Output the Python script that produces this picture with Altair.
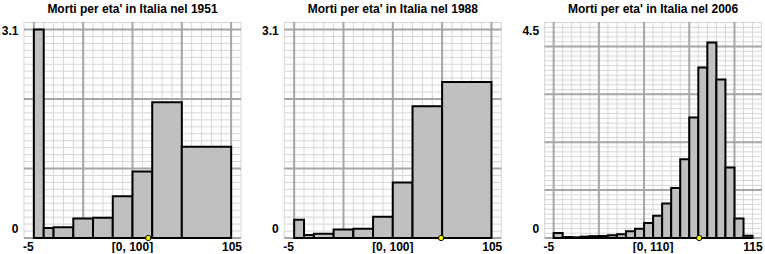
import altair as alt
import pandas as pd
import numpy as np

FONT = "Liberation Sans"

titles = [
    "Morti per eta' in Italia nel 1951",
    "Morti per eta' in Italia nel 1988",
    "Morti per eta' in Italia nel 2006",
]

# bin edges (years) and densities (% of deaths per year of age)
edges_1951 = [0, 5, 10, 20, 30, 40, 50, 60, 75, 100]
dens_1951 = [3.1, 0.15, 0.16, 0.29, 0.30, 0.62, 0.99, 2.02, 1.355]

edges_1988 = [0, 5, 10, 20, 30, 40, 50, 60, 75, 100]
dens_1988 = [0.27, 0.045, 0.064, 0.128, 0.138, 0.316, 0.825, 1.958, 2.32]

edges_2006 = [0, 5, 10, 15, 20, 25, 30, 35, 40, 45, 50, 55, 60, 65, 70,
              75, 80, 85, 90, 95, 100, 105, 110]
dens_2006 = [0.108, 0.02, 0.015, 0.03, 0.04, 0.045, 0.06, 0.08, 0.145, 0.2,
             0.325, 0.48, 0.745, 1.08, 1.70, 2.6, 3.68, 4.22, 3.42, 1.52,
             0.42, 0.05]

markers = [58.0, 74.5, 80.5]

x_lo = [-5, -5, -5]
x_hi = [105, 105, 115]
x_label_vals = [[-5, 50, 105], [-5, 50, 105], [-5, 55, 115]]
x_label_txt = [["-5", "[0, 100]", "105"], ["-5", "[0, 100]", "105"], ["-5", "[0, 110]", "115"]]

y_max = [3.1, 3.1, 4.5]
y_label_txt = [["0", "3.1"], ["0", "3.1"], ["0", "4.5"]]

all_edges = [edges_1951, edges_1988, edges_2006]
all_dens = [dens_1951, dens_1988, dens_2006]

# grid styling
MINOR_Y = 3.1 / 30
MAJOR_EVERY = 10
X_MINOR = 5
X_MAJOR = 25
MINOR_COL = "#d6d6d6"
MAJOR_COL = "#a6a6a6"

W, H = 217, 216
TXT = dict(font=FONT, fontSize=12, fontWeight="bold", color="black")


def panel(i):
    edges, dens = all_edges[i], all_dens[i]
    bars = pd.DataFrame({"x0": edges[:-1], "x1": edges[1:], "d": dens})
    mk = pd.DataFrame({"m": [markers[i]], "z": [0.0]})

    ytop = y_max[i] * 1.036
    n = int(np.floor(ytop / MINOR_Y + 1e-9))
    ks = np.arange(0, n + 1)
    ygrid = pd.DataFrame({"g": ks * MINOR_Y, "major": ks % MAJOR_EVERY == 0})
    xs = np.arange(x_lo[i], x_hi[i] + 1, X_MINOR)
    xgrid = pd.DataFrame({"g": xs, "major": (xs % X_MAJOR == 0) & (xs >= 0)})

    xscale = alt.Scale(domain=[x_lo[i], x_hi[i]], nice=False, zero=False)
    yscale = alt.Scale(domain=[0, ytop], nice=False, zero=True)

    def X(f):
        return alt.X(f, scale=xscale, axis=None)

    def Y(f):
        return alt.Y(f, scale=yscale, axis=None)

    vminor = alt.Chart(xgrid).transform_filter("!datum.major").mark_rule(
        color=MINOR_COL, strokeWidth=1).encode(x=X("g:Q"))
    hminor = alt.Chart(ygrid).transform_filter("!datum.major").mark_rule(
        color=MINOR_COL, strokeWidth=1).encode(y=Y("g:Q"))
    vmajor = alt.Chart(xgrid).transform_filter("datum.major").mark_rule(
        color=MAJOR_COL, strokeWidth=2).encode(x=X("g:Q"))
    hmajor = alt.Chart(ygrid).transform_filter("datum.major").mark_rule(
        color=MAJOR_COL, strokeWidth=2).encode(y=Y("g:Q"))

    rects = alt.Chart(bars).mark_rect(
        fill="#c0c0c0", stroke="black", strokeWidth=2
    ).encode(x=X("x0:Q"), x2="x1:Q", y=Y("d:Q"), y2=alt.datum(0))

    dot = alt.Chart(mk).mark_point(
        shape="circle", filled=True, fill="#ffff00", stroke="black",
        strokeWidth=1, size=28, opacity=1
    ).encode(x=X("m:Q"), y=Y("z:Q"))

    # x tick labels: first flush-left, middle centred, last flush-right
    aligns = ["left", "center", "right"]
    dxs = [-1, 0, 1]
    xlabels = []
    for v, t, a, dx in zip(x_label_vals[i], x_label_txt[i], aligns, dxs):
        d = pd.DataFrame({"v": [v], "t": [t]})
        xlabels.append(
            alt.Chart(d).mark_text(align=a, baseline="alphabetic", dx=dx, **TXT)
            .encode(x=X("v:Q"), y=alt.value(H + 12.5), text="t:N")
        )

    # y tick labels: "0" lifted above the baseline, max label hanging below its line
    ylabels = []
    for v, t, dy in zip([0, y_max[i]], y_label_txt[i], [-5.5, 5]):
        d = pd.DataFrame({"v": [v], "t": [t]})
        ylabels.append(
            alt.Chart(d).mark_text(align="right", baseline="alphabetic", dy=dy, **TXT)
            .encode(y=Y("v:Q"), x=alt.value(-5.5), text="t:N")
        )

    return alt.layer(vminor, hminor, vmajor, hmajor, rects, dot, *xlabels, *ylabels).properties(
        width=W, height=H,
        title=alt.TitleParams(
            text=titles[i], font=FONT, fontSize=12, fontWeight="bold",
            color="black", anchor="middle", offset=5,
        ),
    )


chart = alt.hconcat(panel(0), panel(1), panel(2), spacing=43.3, bounds="flush").configure_view(
    stroke=None
).properties(
    padding={"left": 1, "top": 3, "right": 0, "bottom": 0},
    background="white",
)

chart.save("out.html", embed_options={"renderer": "svg", "actions": False})
